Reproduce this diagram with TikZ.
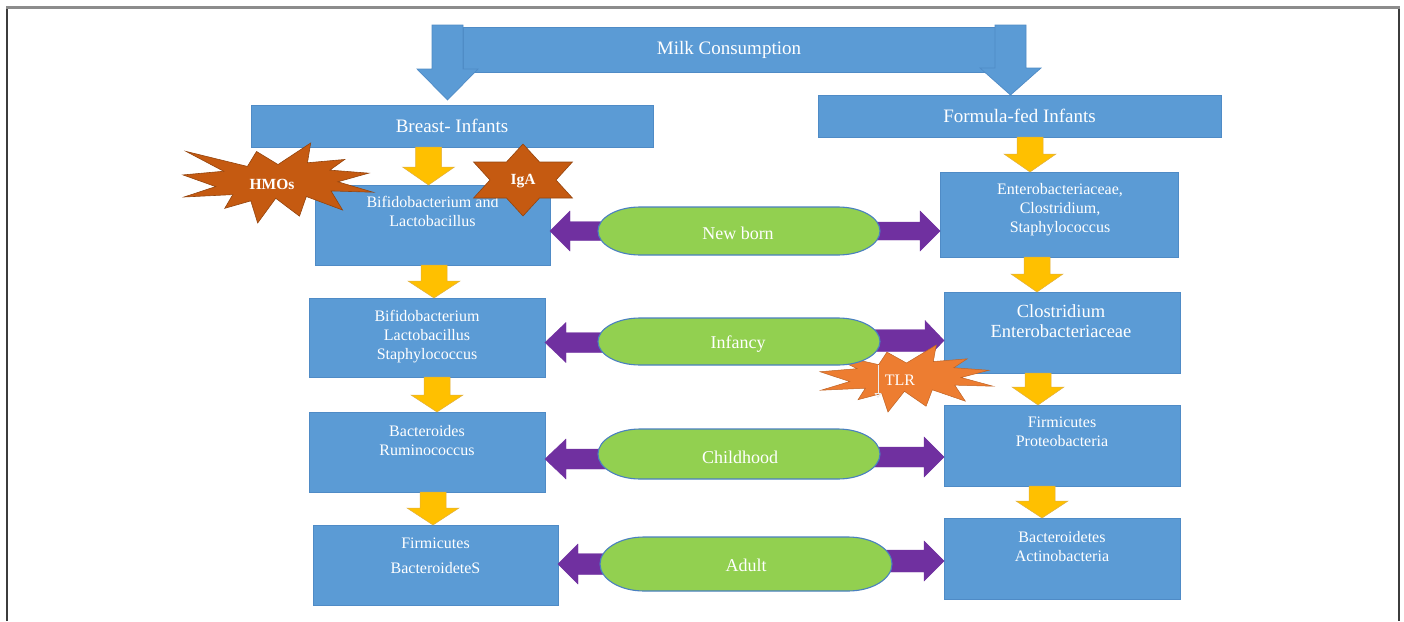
\documentclass[tikz,border=0pt]{standalone}
\usepackage{fontspec}
\setmainfont{Liberation Serif}
\usetikzlibrary{calc,arrows.meta}
\definecolor{boxblue}{HTML}{5B9BD5}
\definecolor{boxedge}{HTML}{4F8BC6}
\definecolor{yel}{HTML}{FFC000}
\definecolor{yeledge}{HTML}{E0B040}
\definecolor{purp}{HTML}{7030A0}
\definecolor{grn}{HTML}{92D050}
\definecolor{pilledge}{HTML}{4A80C0}
\definecolor{brn}{HTML}{C55A11}
\definecolor{org}{HTML}{ED7D31}
\definecolor{framegray}{HTML}{8C8C8C}
\definecolor{framedark}{HTML}{3C3C3C}

\tikzset{
  box/.style={draw=boxedge, line width=0.7pt, fill=boxblue, inner sep=0pt, outer sep=0pt},
  hbox/.style={box, text=white, font=\fontsize{19}{22}\selectfont},
  btxt/.style={text=white, align=center, inner sep=0pt, anchor=north, font=\fontsize{16}{19}\selectfont},
  bigtxt/.style={btxt, font=\fontsize{18.5}{20}\selectfont},
  pillnode/.style={draw=none, inner sep=0pt, outer sep=0pt},
  pillsty/.style={fill=grn, draw=pilledge, line width=1.1pt},
  pilltxt/.style={text=white, inner sep=0pt, font=\fontsize{18}{20}\selectfont},
  yarr/.style={fill=yel, draw=yeledge, line width=0.5pt},
  parr/.style={fill=purp, draw=purp, line width=0.4pt},
  barr/.style={fill=boxblue, draw=boxedge, line width=0.7pt},
  hmosty/.style={fill=brn, draw=brn!75!black, line width=0.6pt},
  tlrsty/.style={fill=org, draw=org!80!black, line width=0.5pt},
  startxt/.style={text=white, inner sep=0pt, font=\fontsize{15.5}{18}\selectfont\bfseries},
  tlrtxt/.style={text=white, inner sep=0pt, font=\fontsize{16}{18}\selectfont},
  tlrline/.style={draw=white!85!gray, line width=0.8pt, -{Triangle[open, width=7pt, length=5pt]}}
}

% block arrow: start, tip, shaft half width, head half width, head length, style
\newcommand\blockarrow[6]{%
  \coordinate (ba-s) at (#1);
  \coordinate (ba-t) at (#2);
  \coordinate (ba-h) at ($(ba-t)!#5!(ba-s)$);
  \filldraw[#6] ($(ba-s)!#3!90:(ba-t)$) -- ($(ba-h)!#3!90:(ba-t)$) -- ($(ba-h)!#4!90:(ba-t)$)
    -- (ba-t) -- ($(ba-h)!#4!-90:(ba-t)$) -- ($(ba-h)!#3!-90:(ba-t)$) -- ($(ba-s)!#3!-90:(ba-t)$) -- cycle;}

% pill outline around an empty node: node, x radius, y radius
\newcommand\pillpath[3]{%
  \filldraw[pillsty] ($(#1.north west)+(#2,0)$) -- ($(#1.north east)+(-#2,0)$)
    arc[start angle=90, end angle=-90, x radius=#2pt, y radius=#3pt]
    -- ($(#1.south west)+(#2,0)$)
    arc[start angle=270, end angle=90, x radius=#2pt, y radius=#3pt] -- cycle;}

% explosion burst in a box: x0, y0, xscale(pt per %), yscale(pt per %), style
\newcommand\explosion[5]{%
  \begin{scope}[shift={(#1,#2)}, x=#3pt, y=-#4pt]
    \filldraw[#5] (50,26.9) -- (67.2,0) -- (65.5,24.7) -- (85.1,20.6) -- (77.3,33.9) -- (97.7,37.7)
      -- (81.5,48.5) -- (100,61.5) -- (77.9,59.9) -- (84,83.8) -- (64.9,66.9) -- (61.3,91.4)
      -- (48.8,69.1) -- (39.3,100) -- (35.7,72.3) -- (22,81.6) -- (26.2,64.5) -- (0.6,67.5)
      -- (17.2,54.5) -- (0,39.9) -- (21.4,35.3) -- (1.7,10.6) -- (33.9,29.3) -- (38.7,10.6) -- cycle;
  \end{scope}}

\begin{document}
\begin{tikzpicture}[x=1pt,y=-1pt]
\fill[white] (0,0) rectangle (1404,621);
\useasboundingbox (0,0) rectangle (1404,621);

% frame
\draw[framedark, line width=1.6pt] (7,621) -- (7,7);
\draw[framedark, line width=1.6pt] (1399,7) -- (1399,621);
\draw[framegray, line width=2.4pt] (6.2,7.5) -- (1399.8,7.5);

% header nodes
\node[hbox, minimum width=532pt, minimum height=45pt] (milk) at (729,49.5) {Milk Consumption};
\node[hbox, minimum width=402pt, minimum height=42pt] (breast) at (452,126) {Breast- Infants};
\node[hbox, minimum width=403pt, minimum height=42pt] (formula) at (1019.5,116) {Formula-fed Infants};

% milk arrows
\blockarrow{$(milk.north west)+(-15.5,-2)$}{$(milk.north west |- breast.north)+(-15.5,-5)$}{15.5pt}{30.5pt}{31pt}{barr}
\blockarrow{$(milk.north east)+(15.5,-2)$}{$(milk.north east |- formula.north)+(15.5,0)$}{15.5pt}{30.5pt}{27pt}{barr}

% left column boxes
\node[box, minimum width=235pt, minimum height=80pt] (l1) at (432.5,225) {};
\node[box, minimum width=236pt, minimum height=79pt] (l2) at (427,337.5) {};
\node[box, minimum width=236pt, minimum height=80pt] (l3) at (427,452) {};
\node[box, minimum width=245pt, minimum height=80pt] (l4) at (435.5,565) {};
% right column boxes
\node[box, minimum width=238pt, minimum height=85pt] (r1) at (1059,214.5) {};
\node[box, minimum width=236pt, minimum height=81pt] (r2) at (1062,332.5) {};
\node[box, minimum width=236pt, minimum height=81pt] (r3) at (1062,445.5) {};
\node[box, minimum width=236pt, minimum height=81pt] (r4) at (1062,558.5) {};

% box texts
\node[btxt] (l1t) at ($(l1.north)+(0,11)$) {Bifidobacterium and\\Lactobacillus};
\node[btxt] (l2t) at ($(l2.north)+(0,12)$) {Bifidobacterium\\Lactobacillus\\Staphylococcus};
\node[btxt] (l3t) at ($(l3.north)+(0,13)$) {Bacteroides\\Ruminococcus};
\node[btxt] (l4t) at ($(l4.north)+(0,13)$) {Firmicutes\\[6pt]BacteroideteS};
\node[btxt] (r1t) at ($(r1.north)+(1,11)$) {Enterobacteriaceae,\\Clostridium,\\Staphylococcus};
\node[bigtxt] (r2t) at ($(r2.north)+(-1,12)$) {Clostridium\\Enterobacteriaceae};
\node[btxt] (r3t) at ($(r3.north)+(0,12)$) {Firmicutes\\Proteobacteria};
\node[btxt] (r4t) at ($(r4.north)+(0,13)$) {Bacteroidetes\\Actinobacteria};

% yellow arrows
\blockarrow{$(breast.south)+(-23.5,0)$}{$(breast.south |- l1.north)+(-23.5,0)$}{13pt}{26pt}{18pt}{yarr}
\blockarrow{$(l1.south)+(1.5,0)$}{$(l1.south |- l2.north)+(1.5,0)$}{13pt}{26pt}{17pt}{yarr}
\blockarrow{$(l2.south)+(10,0)$}{$(l2.south |- l3.north)+(10,0)$}{13pt}{26pt}{17pt}{yarr}
\blockarrow{$(l3.south)+(6,0)$}{$(l3.south |- l4.north)+(6,0)$}{13pt}{26pt}{17pt}{yarr}
\blockarrow{$(formula.south)+(10.5,0)$}{$(formula.south |- r1.north)+(10.5,0)$}{13pt}{26pt}{18pt}{yarr}
\blockarrow{$(r1.south)+(-22,0)$}{$(r1.south |- r2.north)+(-22,0)$}{13pt}{26pt}{18pt}{yarr}
\blockarrow{$(r2.south)+(-24,0)$}{$(r2.south |- r3.north)+(-24,0)$}{13pt}{26pt}{18pt}{yarr}
\blockarrow{$(r3.south)+(-20,0)$}{$(r3.south |- r4.north)+(-20,0)$}{13pt}{26pt}{17pt}{yarr}

% pill nodes (shapes drawn later)
\node[pillnode, minimum width=282pt, minimum height=48pt] (nb) at (739,231) {};
\node[pillnode, minimum width=282pt, minimum height=47pt] (inf) at (739,341.5) {};
\node[pillnode, minimum width=282pt, minimum height=50pt] (ch) at (739,454) {};
\node[pillnode, minimum width=292pt, minimum height=54pt] (ad) at (746,564) {};

% purple arrows
\blockarrow{$(nb.west)+(15,0)$}{l1.east |- nb.west}{9.5pt}{20pt}{20pt}{parr}
\blockarrow{$(nb.east)+(-15,0)$}{r1.west |- nb.east}{9pt}{20pt}{20pt}{parr}
\blockarrow{$(inf.west)+(15,1)$}{$(l2.east |- inf.west)+(0,1)$}{10pt}{20pt}{21pt}{parr}
\blockarrow{$(inf.east)+(-15,-1)$}{$(r2.west |- inf.east)+(0,-1)$}{11pt}{20pt}{19pt}{parr}
\blockarrow{$(ch.west)+(15,5)$}{$(l3.east |- ch.west)+(0,5)$}{10pt}{20pt}{21pt}{parr}
\blockarrow{$(ch.east)+(-15,3)$}{$(r3.west |- ch.east)+(0,3)$}{10pt}{20pt}{20pt}{parr}
\blockarrow{$(ad.west)+(15,0)$}{l4.east |- ad.west}{10.5pt}{20pt}{20pt}{parr}
\blockarrow{$(ad.east)+(-15,-3)$}{$(r4.west |- ad.east)+(0,-3)$}{11pt}{20pt}{20pt}{parr}

% TLR burst
\explosion{820}{345}{1.73}{0.67}{tlrsty}
\node[tlrtxt] (tlr) at (900,380) {TLR};
\coordinate (tlrend) at (878,398);

% pills
\pillpath{nb}{42}{24}
\pillpath{inf}{42}{23.5}
\pillpath{ch}{42}{25}
\pillpath{ad}{44}{27}
\draw[tlrline] (inf.south -| tlrend) -- (tlrend);
\node[pilltxt] (nbt) at ($(nb)+(-1,2)$) {New born};
\node[pilltxt] (inft) at ($(inf)+(-1,2.5)$) {Infancy};
\node[pilltxt] (cht) at ($(ch)+(1,3)$) {Childhood};
\node[pilltxt] (adt) at ($(ad)+(0,1)$) {Adult};

% HMOs burst
\explosion{183}{143}{1.9}{0.8}{hmosty}
\node[startxt] (hmos) at (272,184) {HMOs};

% IgA six-point star
\coordinate (igac) at (523,180);
\begin{scope}[shift={(igac)}]
  \filldraw[hmosty] (0,-36) -- (16.5,-18) -- (49.4,-18) -- (33,0) -- (49.4,18) -- (16.5,18)
    -- (0,36) -- (-16.5,18) -- (-49.4,18) -- (-33,0) -- (-49.4,-18) -- (-16.5,-18) -- cycle;
\end{scope}
\node[startxt] (iga) at ($(igac)+(0,1)$) {IgA};
\end{tikzpicture}
\end{document}
